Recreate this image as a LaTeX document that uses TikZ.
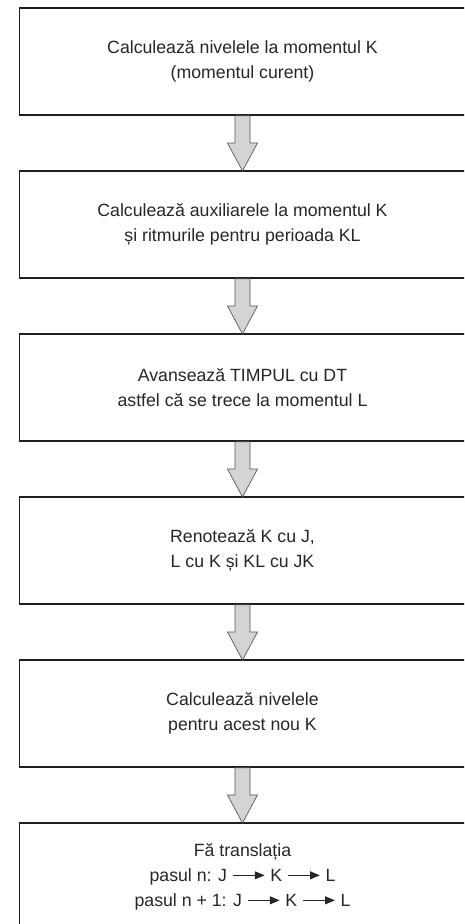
\documentclass[tikz,border=0pt]{standalone}
\usepackage{fontspec}
\setmainfont{Liberation Sans}
\usepackage{xcolor}
\usepackage{tikz}
\usetikzlibrary{positioning, calc, arrows.meta}
\definecolor{arrowgray}{rgb}{0.83, 0.83, 0.83}
\definecolor{edgegray}{rgb}{0.35, 0.35, 0.35}
\definecolor{boxline}{rgb}{0.12, 0.12, 0.12}

% small arrow used in the last box (J -> K -> L)
\newcommand{\stepto}{\hspace{0.3em}\tikz[baseline=-0.33em]\draw[line width=0.9pt, -{Triangle[length=0.55em, width=0.45em]}] (0,0) -- (1.8em,0);\hspace{0.3em}}

% thick grey arrow between two boxes
\newcommand{\flowstep}[2]{%
	\draw[fatarrow] ($(#1.south)+(-7.5,-0.9)$) -- ($(#1.south)+(7.5,-0.9)$) -- ($(#2.north)+(7.5,28)$) -- ($(#2.north)+(15,28)$) -- (#2.north) -- ($(#2.north)+(-15,28)$) -- ($(#2.north)+(-7.5,28)$) -- cycle;}

\begin{document}
\begin{tikzpicture}[x=1pt, y=1pt]
	\tikzstyle{stepbox}=[draw=boxline, line width=1.8pt, minimum width=446pt, minimum height=107pt, inner sep=0pt, outer sep=0pt, align=center, text=black!85, font=\fontsize{17.7}{25}\selectfont]
	
	\tikzstyle{fatarrow}=[draw=edgegray, fill=arrowgray, line width=0.7pt, line join=miter]
	
	\useasboundingbox (0,0) rectangle (464,924);
	\clip (0,0) rectangle (464,924);
	
	\node [stepbox] (B1) at (242.5,862.5) {Calculează nivelele la momentul K\\(momentul curent)};
	\node [below=56pt of B1, stepbox] (B2) {Calculează auxiliarele la momentul K\\și ritmurile pentru perioada KL};
	\node [below=56pt of B2, stepbox] (B3) {Avansează TIMPUL cu DT\\astfel că se trece la momentul L};
	\node [below=56pt of B3, stepbox] (B4) {Renotează K cu J,\\L cu K și KL cu JK};
	\node [below=56pt of B4, stepbox] (B5) {Calculează nivelele\\pentru acest nou K};
	\node [below=56pt of B5, stepbox] (B6) {Fă translația\\pasul n:  J\stepto K\stepto L\\pasul n + 1:  J\stepto K\stepto L};
	
	\flowstep{B1}{B2}
	\flowstep{B2}{B3}
	\flowstep{B3}{B4}
	\flowstep{B4}{B5}
	\flowstep{B5}{B6}
\end{tikzpicture}
\end{document}
